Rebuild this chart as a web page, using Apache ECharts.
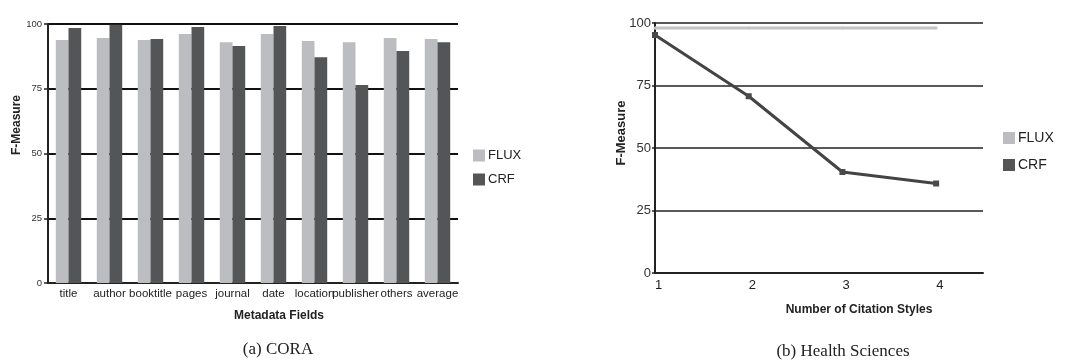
<!DOCTYPE html>
<html><head><meta charset="utf-8">
<script src="https://cdn.jsdelivr.net/npm/echarts@6/dist/echarts.min.js"></script>
<style>html,body{margin:0;padding:0;background:#fff}#c{width:1072px;height:363px}</style>
</head><body><div id="c"></div>
<script>
const fields = ['title','author','booktitle','pages','journal','date','location','publisher','others','average'];
const coraFlux = [93.8,94.6,93.8,96.1,93.0,96.1,93.4,93.0,94.6,94.2];
const coraCrf  = [98.5,99.7,94.2,98.8,91.5,99.2,87.2,76.4,89.6,93.0];
const styles = [1,2,3,4];
const hsFlux = [98,98,98,98];
const hsCrf  = [95.2,70.7,40.4,35.8];
const yTicks = [0,25,50,75,100];

const FLUXC = '#bcbdc1', CRFC = '#545557';
const font = 'Liberation Sans, Arial, Helvetica, sans-serif';
const chart = echarts.init(document.getElementById('c'), null, {renderer:'canvas'});
chart.setOption({
  animation:false,
  textStyle:{fontFamily:font},
  grid:[
    {left:48, top:24, width:410, height:259},
    {left:655, top:23, width:328, height:250}
  ],
  xAxis:[
    {gridIndex:0, type:'category', data:fields,
     axisLine:{lineStyle:{color:'#222', width:2}}, axisTick:{show:false},
     axisLabel:{color:'#222', fontSize:11.5, margin:5, interval:0, fontFamily:font}},
    {gridIndex:1, type:'value', min:1, max:4.5, interval:1,
     axisLine:{lineStyle:{color:'#222', width:2}}, axisTick:{show:false}, splitLine:{show:false},
     axisLabel:{color:'#222', fontSize:13, margin:6, fontFamily:font,
       formatter:v => (styles.indexOf(v) >= 0 ? '  ' + String(v) : '')}}
  ],
  yAxis:[
    {gridIndex:0, type:'value', min:yTicks[0], max:yTicks[yTicks.length-1], interval:25,
     axisLine:{show:true, lineStyle:{color:'#222', width:2}},
     axisTick:{show:true, length:4, lineStyle:{color:'#222', width:1.5}},
     axisLabel:{color:'#333', fontSize:9.5, margin:6, fontFamily:font},
     splitLine:{lineStyle:{color:'#111', width:2}}},
    {gridIndex:1, type:'value', min:yTicks[0], max:yTicks[yTicks.length-1], interval:25,
     axisLine:{show:true, lineStyle:{color:'#222', width:2}},
     axisTick:{show:true, length:3, lineStyle:{color:'#222', width:1.5}},
     axisLabel:{color:'#333', fontSize:13, margin:4, fontFamily:font},
     splitLine:{lineStyle:{color:'#222', width:1.5}}}
  ],
  legend:[
    {orient:'vertical', left:473, top:149, padding:0, itemWidth:12, itemHeight:12, itemGap:11,
     icon:'rect', data:['FLUX','CRF'], textStyle:{fontSize:13, color:'#222', fontFamily:font, padding:[0,0,0,-2]}},
    {orient:'vertical', left:1003, top:131, padding:0, itemWidth:12, itemHeight:12, itemGap:13,
     icon:'rect', data:['FLUX','CRF'], textStyle:{fontSize:14, color:'#222', fontFamily:font, padding:[0,0,0,-2]}}
  ],
  series:[
    {name:'FLUX', type:'bar', xAxisIndex:0, yAxisIndex:0, data:coraFlux, barGap:'0%', barCategoryGap:'38%',
     itemStyle:{color:FLUXC}},
    {name:'CRF', type:'bar', xAxisIndex:0, yAxisIndex:0, data:coraCrf, barGap:'0%', barCategoryGap:'38%',
     itemStyle:{color:CRFC}},
    {name:'FLUX', type:'line', xAxisIndex:1, yAxisIndex:1, data:styles.map((s,i)=>[s,hsFlux[i]]),
     symbol:'circle', symbolSize:3, lineStyle:{color:'#c4c4c4', width:3}, itemStyle:{color:'#c4c4c4'}},
    {name:'CRF', type:'line', xAxisIndex:1, yAxisIndex:1, data:styles.map((s,i)=>[s,hsCrf[i]]),
     symbol:'rect', symbolSize:6, lineStyle:{color:'#444', width:3}, itemStyle:{color:'#4a4a4a'}}
  ],
  graphic:[
    {type:'text', x:17, y:125, rotation:Math.PI/2, style:{text:'F-Measure', font:'bold 12px '+font, fill:'#222', textAlign:'center', textVerticalAlign:'middle'}},
    {type:'text', x:621, y:133, rotation:Math.PI/2, style:{text:'F-Measure', font:'bold 13px '+font, fill:'#222', textAlign:'center', textVerticalAlign:'middle'}},
    {type:'text', x:279, y:316, style:{text:'Metadata Fields', font:'bold 12px '+font, fill:'#222', textAlign:'center', textVerticalAlign:'middle'}},
    {type:'text', x:859, y:310, style:{text:'Number of Citation Styles', font:'bold 12px '+font, fill:'#222', textAlign:'center', textVerticalAlign:'middle'}},
    {type:'text', x:278, y:350, style:{text:'(a) CORA', font:'17px Liberation Serif, Times New Roman, serif', fill:'#222', textAlign:'center', textVerticalAlign:'middle'}},
    {type:'text', x:843, y:352, style:{text:'(b) Health Sciences', font:'17px Liberation Serif, Times New Roman, serif', fill:'#222', textAlign:'center', textVerticalAlign:'middle'}}
  ]
});
</script></body></html>
